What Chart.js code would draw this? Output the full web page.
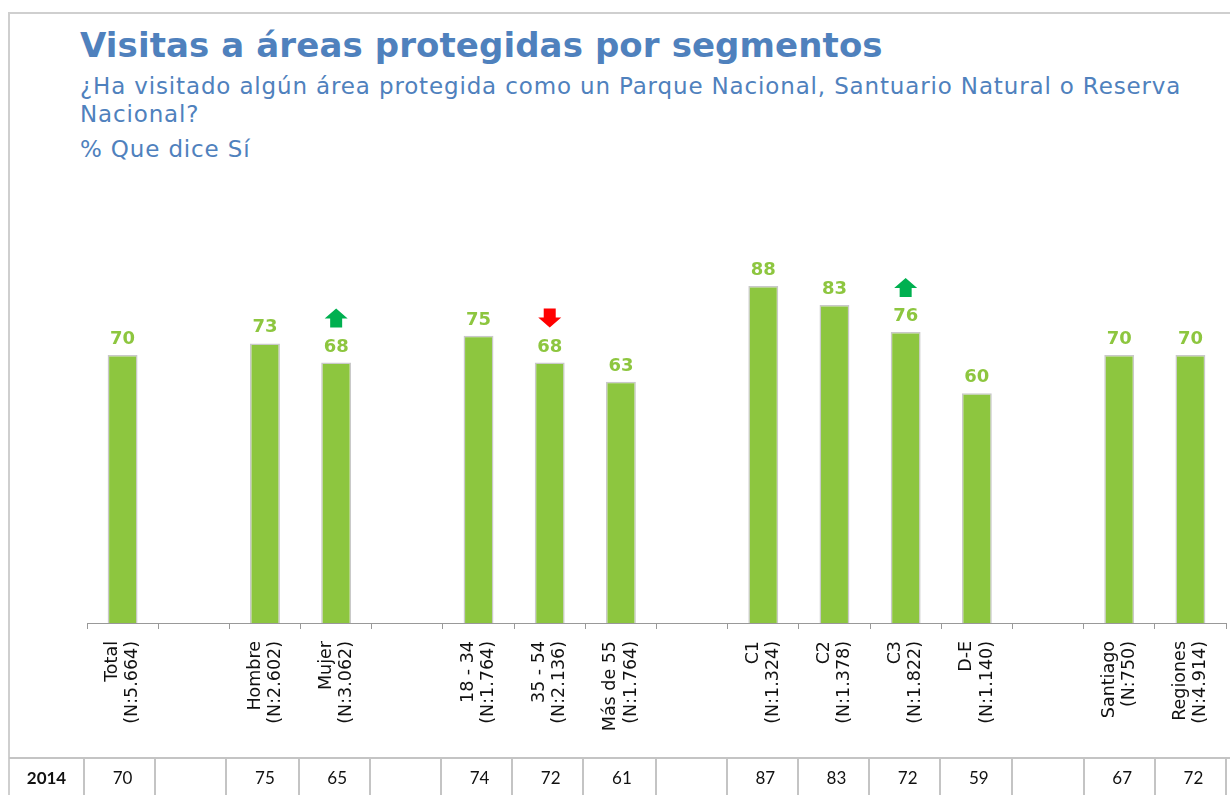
<!DOCTYPE html>
<html>
<head>
<meta charset="utf-8">
<script src="https://cdn.jsdelivr.net/npm/chart.js@4.4.1/dist/chart.umd.min.js"></script>
<style>
  html, body { margin: 0; padding: 0; background: #fff; width: 1230px; height: 795px; overflow: hidden; }
  #card { position: absolute; left: 8px; top: 12px; width: 1230px; height: 800px; border-left: 2px solid #cfcfcf; border-top: 2px solid #cfcfcf; }
  .t { position: absolute; left: 80px; font-family: "DejaVu Sans", Verdana, sans-serif; color: #4F81BD; white-space: nowrap; }
  #title { top: 26px; font-size: 34px; line-height: 38px; font-weight: bold; letter-spacing: 0.1px; }
  #sub { top: 72px; font-size: 23px; line-height: 28px; letter-spacing: 0.85px; }
  #pct { top: 135px; font-size: 23px; line-height: 28px; letter-spacing: 0.85px; }
  canvas { position: absolute; left: 0; top: 0; }
</style>
</head>
<body>
<div id="card"></div>
<div class="t" id="title">Visitas a áreas protegidas por segmentos</div>
<div class="t" id="sub">¿Ha visitado algún área protegida como un Parque Nacional, Santuario Natural o Reserva<br>Nacional?</div>
<div class="t" id="pct">% Que dice Sí</div>
<canvas id="c" width="1230" height="795"></canvas>
<script>
const categories = [
  ['Total', '(N:5.664)'], '',
  ['Hombre', '(N:2.602)'], ['Mujer', '(N:3.062)'], '',
  ['18 - 34', '(N:1.764)'], ['35 - 54', '(N:2.136)'], ['Más de 55', '(N:1.764)'], '',
  ['C1', '(N:1.324)'], ['C2', '(N:1.378)'], ['C3', '(N:1.822)'], ['D-E', '(N:1.140)'], '',
  ['Santiago', '(N:750)'], ['Regiones', '(N:4.914)']
];
const valuesCurrent = [70, null, 73, 68, null, 75, 68, 63, null, 88, 83, 76, 60, null, 70, 70];
const values2014 = [70, null, 75, 65, null, 74, 72, 61, null, 87, 83, 72, 59, null, 67, 72];
const trend = [null, null, null, 'up', null, null, 'down', null, null, null, null, 'up', null, null, null, null];
const tableYear = '2014';

const GREEN = '#8DC63F';

const labelsPlugin = {
  id: 'barLabels',
  afterDatasetsDraw(chart) {
    const ctx = chart.ctx;
    const meta = chart.getDatasetMeta(0);
    ctx.save();
    ctx.font = 'bold 18px "DejaVu Sans", Verdana, sans-serif';
    ctx.textAlign = 'center';
    ctx.textBaseline = 'alphabetic';
    meta.data.forEach((bar, i) => {
      const v = valuesCurrent[i];
      if (v === null || v === undefined) return;
      const baseY = bar.y - 11;
      ctx.fillStyle = GREEN;
      ctx.fillText(String(v), bar.x, baseY);
      const labelTop = baseY - 14;
      const t = trend[i];
      if (t) {
        const w = 23, head = 10, stemW = 12, stem = 9;
        const x = bar.x;
        ctx.beginPath();
        if (t === 'up') {
          ctx.fillStyle = '#00B050';
          const bottom = labelTop - 10;
          const top = bottom - head - stem;
          ctx.moveTo(x, top);
          ctx.lineTo(x + w / 2, top + head);
          ctx.lineTo(x + stemW / 2, top + head);
          ctx.lineTo(x + stemW / 2, bottom);
          ctx.lineTo(x - stemW / 2, bottom);
          ctx.lineTo(x - stemW / 2, top + head);
          ctx.lineTo(x - w / 2, top + head);
        } else {
          ctx.fillStyle = '#FF0000';
          const tip = labelTop - 10;
          const top = tip - head - stem;
          ctx.moveTo(x - stemW / 2, top);
          ctx.lineTo(x + stemW / 2, top);
          ctx.lineTo(x + stemW / 2, top + stem);
          ctx.lineTo(x + w / 2, top + stem);
          ctx.lineTo(x, tip);
          ctx.lineTo(x - w / 2, top + stem);
          ctx.lineTo(x - stemW / 2, top + stem);
        }
        ctx.closePath();
        ctx.fill();
      }
    });
    ctx.restore();
  }
};

const tablePlugin = {
  id: 'yearTable',
  afterDraw(chart) {
    const ctx = chart.ctx;
    const xs = chart.scales.x;
    const n = categories.length;
    const slot = (xs.getPixelForValue(1) - xs.getPixelForValue(0));
    const top = 758;
    const bottom = 800;
    const rowMid = 779;
    ctx.save();
    ctx.strokeStyle = '#c4c4c4';
    ctx.lineWidth = 2;
    ctx.beginPath();
    ctx.moveTo(9, top);
    ctx.lineTo(1230, top);
    for (let i = 0; i <= n; i++) {
      const bx = Math.round(xs.getPixelForValue(0) - slot / 2 + i * slot) - 3 + Math.round(i * 0.2);
      ctx.moveTo(bx, top);
      ctx.lineTo(bx, bottom);
    }
    ctx.stroke();
    ctx.fillStyle = '#111';
    ctx.textAlign = 'center';
    ctx.textBaseline = 'middle';
    ctx.font = 'bold 17px Lato, "Open Sans", sans-serif';
    const firstLeft = xs.getPixelForValue(0) - slot / 2 - 3;
    ctx.fillText(tableYear, (9 + firstLeft) / 2, rowMid);
    ctx.font = '17px Lato, "Open Sans", sans-serif';
    values2014.forEach((v, i) => {
      if (v === null || v === undefined) return;
      ctx.fillText(String(v), xs.getPixelForValue(i) + Math.round(i * 0.2), rowMid);
    });
    ctx.restore();
  }
};

new Chart(document.getElementById('c'), {
  type: 'bar',
  data: {
    labels: categories,
    datasets: [{
      data: valuesCurrent,
      backgroundColor: GREEN,
      borderColor: '#c9c9c9',
      borderWidth: 1.5,
      borderSkipped: 'bottom',
      categoryPercentage: 1,
      barPercentage: 0.42
    }]
  },
  options: {
    responsive: false,
    devicePixelRatio: 1,
    animation: false,
    layout: { padding: { left: 87, right: 4, top: 240, bottom: 0 } },
    plugins: { legend: { display: false }, tooltip: { enabled: false }, title: { display: false } },
    scales: {
      y: { display: false, min: 0, max: 100 },
      x: {
        offset: true,
        grid: { offset: true, drawOnChartArea: false, drawTicks: true, tickLength: 6, color: '#999', lineWidth: 1 },
        border: { display: true, color: '#999', width: 1 },
        ticks: {
          autoSkip: false,
          maxRotation: 90,
          minRotation: 90,
          padding: 12,
          labelOffset: -10,
          color: '#111',
          font: { family: '"DejaVu Sans", Verdana, sans-serif', size: 17.5, lineHeight: 1.15 }
        },
        afterFit(scale) { scale.height = 172; scale.paddingLeft = 0; scale.paddingRight = 0; }
      }
    }
  },
  plugins: [labelsPlugin, tablePlugin]
});
</script>
</body>
</html>
